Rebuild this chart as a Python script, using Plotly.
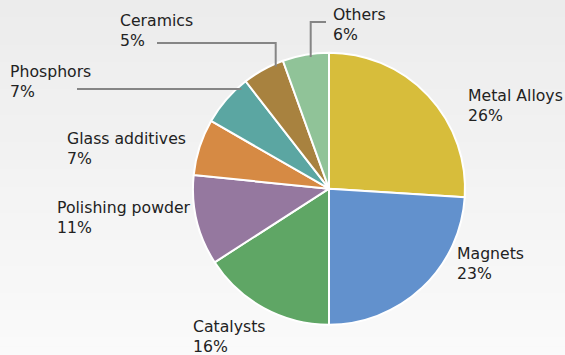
import math
import plotly.graph_objects as go

# ---- data ----
labels = ["Metal Alloys", "Magnets", "Catalysts", "Polishing powder",
          "Glass additives", "Phosphors", "Ceramics", "Others"]
# slice sizes as drawn in the picture (share of the whole, %)
values = [26.0, 24.0, 15.9, 10.7, 6.7, 6.2, 5.0, 5.5]
# percentages as printed on the labels
pct_text = ["26%", "23%", "16%", "11%", "7%", "7%", "5%", "6%"]

# ---- styles ----
colors = ["#d7bd3b", "#6291cd", "#5fa665", "#95789f",
          "#d68a44", "#5ba6a2", "#a8823f", "#90c398"]

W, H = 565, 355
CX, CY, R = 329, 188.7, 136  # pie centre / radius in pixels

# label placement (left x, middle y of two-line block), pixels
label_pos = {
    "Metal Alloys": (467, 105),
    "Magnets": (456, 263.5),
    "Catalysts": (192, 336.5),
    "Polishing powder": (56, 218),
    "Glass additives": (66, 148),
    "Phosphors": (9, 81),
    "Ceramics": (119, 30.5),
    "Others": (332, 24),
}
# leader lines: (kind, fixed coord, elbow coord, end coord)
leaders = {
    "Others": ("v", 310.7, 22, 326),
    "Ceramics": ("v", 275.7, 43, 157),
    "Phosphors": ("h", 89, None, 77),
}

def px(x):
    return x / W

def py(y):
    return 1 - y / H

fig = go.Figure()
fig.add_trace(go.Pie(
    labels=labels, values=values, sort=False, direction="clockwise",
    rotation=0, textinfo="none", hoverinfo="label",
    marker=dict(colors=colors, line=dict(color="#ffffff", width=2)),
    domain=dict(x=[px(CX - R), px(CX + R)], y=[py(CY + R), py(CY - R)]),
    showlegend=False,
))

shapes = []
# background gradient
n = 40
top, bot = (236, 236, 236), (250, 250, 250)
for i in range(n):
    t = i / (n - 1)
    c = tuple(round(top[k] + (bot[k] - top[k]) * t) for k in range(3))
    shapes.append(dict(type="rect", xref="paper", yref="paper", layer="below",
                       x0=0, x1=1, y0=1 - (i + 1) / n - 0.002, y1=1 - i / n,
                       line=dict(width=0), fillcolor="rgb(%d,%d,%d)" % c))

inset = 3
for name, (kind, fixed, elbow, end) in leaders.items():
    if kind == "v":
        ey = CY - math.sqrt(R * R - (fixed - CX) ** 2) + inset
        path = "M %f %f L %f %f L %f %f" % (px(fixed), py(ey), px(fixed), py(elbow),
                                            px(end), py(elbow))
    else:
        ex = CX - math.sqrt(R * R - (fixed - CY) ** 2) + inset + 2
        path = "M %f %f L %f %f" % (px(ex), py(fixed), px(end), py(fixed))
    shapes.append(dict(type="path", xref="paper", yref="paper", path=path,
                       line=dict(color="#858585", width=2)))

annotations = []
for lab, pt in zip(labels, pct_text):
    x, y = label_pos[lab]
    annotations.append(dict(
        xref="paper", yref="paper", x=px(x), y=py(y), xanchor="left",
        yanchor="middle", align="left", showarrow=False, borderpad=0,
        text=lab + "<br>" + pt,
        font=dict(family="DejaVu Sans", size=15.7, color="#222222"),
    ))

fig.update_layout(
    width=W, height=H, margin=dict(l=0, r=0, t=0, b=0),
    paper_bgcolor="#f3f3f3", plot_bgcolor="#f3f3f3",
    shapes=shapes, annotations=annotations,
)
fig.write_html(
    "out.html",
    config={"displayModeBar": False},
    post_script="document.body.style.margin='0';document.body.style.overflow='hidden';",
)
